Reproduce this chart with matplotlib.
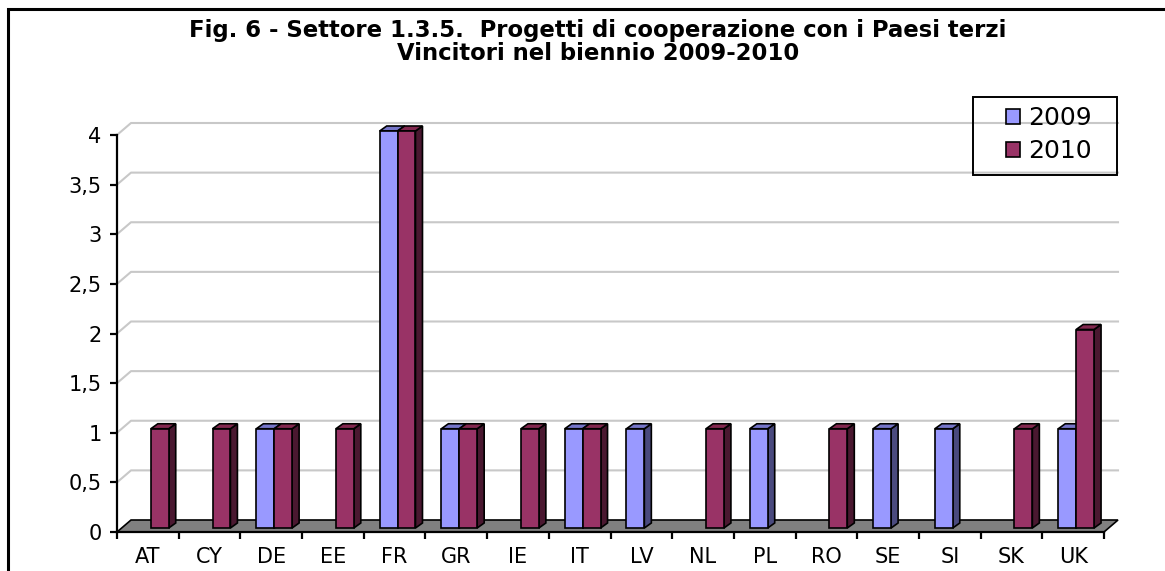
import matplotlib
matplotlib.use("Agg")
import matplotlib.pyplot as plt
from matplotlib.patches import Polygon, Rectangle
from matplotlib.transforms import ScaledTranslation

# Data
countries = ["AT", "CY", "DE", "EE", "FR", "GR", "IE", "IT",
             "LV", "NL", "PL", "RO", "SE", "SI", "SK", "UK"]
v2009 = [0, 0, 1, 0, 4, 1, 0, 1, 1, 0, 1, 0, 1, 1, 0, 1]
v2010 = [1, 1, 1, 1, 4, 1, 1, 1, 0, 1, 0, 1, 0, 0, 1, 2]
series_names = ["2009", "2010"]
yticks = [0, 0.5, 1, 1.5, 2, 2.5, 3, 3.5, 4]
ytick_labels = ["0", "0,5", "1", "1,5", "2", "2,5", "3", "3,5", "4"]

W, H = 1165, 571
fig = plt.figure(figsize=(W / 100, H / 100), dpi=100)
plt.rcParams['font.family'] = ['DejaVu Sans']

# front plane of the plot area (pixels)
x0p, x1p, y0p, y1p = 117, 1104, 532, 135
ax = fig.add_axes([x0p / W, 1 - y0p / H, (x1p - x0p) / W, (y0p - y1p) / H])
n = len(countries)
ax.set_xlim(-0.5, n - 0.5)
ax.set_ylim(0, 4)
px_x = (x1p - x0p) / n        # pixels per category
px_y = (y0p - y1p) / 4.0      # pixels per unit

# depth of the floor / walls and of the bars (pixels -> data)
fdx, fdy = 14 / px_x, 12 / px_y
bdx, bdy = 7 / px_x, 5 / px_y
shift = ax.transData + ScaledTranslation(3 / 100, 4 / 100, fig.dpi_scale_trans)

grid_c = "#C8C8C8"
# gridlines on the back wall with the left-wall diagonal
for yv in yticks[1:]:
    ax.plot([-0.5, -0.5 + fdx, n - 0.5 + fdx], [yv, yv + fdy, yv + fdy],
            color=grid_c, lw=1.5, clip_on=False, zorder=1)

# floor
ax.add_patch(Polygon([(-0.5, 0), (n - 0.5, 0), (n - 0.5 + fdx, fdy), (-0.5 + fdx, fdy)],
                     closed=True, facecolor="#808080", edgecolor="black", lw=1.2,
                     clip_on=False, zorder=2))

bw = 0.29
styles = [("#9999FF", "#7575C8", "#4A4A7E"), ("#993366", "#82284F", "#4A1830")]
xs = list(range(n))
bars = []
z = 3
for i in range(n):
    for s, vals in enumerate([v2009, v2010]):
        h = vals[i]
        front, top, side = styles[s]
        left = i - bw + s * bw
        right = left + bw
        if h > 0:
            ax.add_patch(Polygon([(right, 0), (right + bdx, bdy), (right + bdx, h + bdy), (right, h)],
                                 closed=True, facecolor=side, edgecolor="black", lw=1.2,
                                 transform=shift, clip_on=False, zorder=z))
            ax.add_patch(Polygon([(left, h), (right, h), (right + bdx, h + bdy), (left + bdx, h + bdy)],
                                 closed=True, facecolor=top, edgecolor="black", lw=1.2,
                                 transform=shift, clip_on=False, zorder=z))
        z += 1

for s, vals in enumerate([v2009, v2010]):
    offs = [x - bw + s * bw for x in xs]
    hs = [v if v > 0 else float("nan") for v in vals]
    b = ax.bar(offs, hs, width=bw, align="edge", color=styles[s][0], edgecolor="black",
               lw=1.2, label=series_names[s], transform=shift, clip_on=False)
    for k, r in enumerate(b):
        r.set_zorder(3 + 2 * k + s + 0.5)
    bars.append(b)

# axes styling
for sp in ["top", "right"]:
    ax.spines[sp].set_visible(False)
ax.spines["left"].set_linewidth(1.6)
ax.spines["bottom"].set_linewidth(1.6)
ax.spines["left"].set_zorder(50)
ax.spines["bottom"].set_zorder(50)
ax.set_yticks(yticks)
ax.set_yticklabels(ytick_labels)
ax.tick_params(axis="y", length=5, width=1.6, pad=6, labelsize=15)
ax.set_xticks([x - 0.5 for x in range(n + 1)])
ax.set_xticklabels([])
ax.set_xticks(xs, minor=True)
ax.set_xticklabels(countries, minor=True)
ax.tick_params(axis="x", which="major", length=5, width=1.6)
ax.tick_params(axis="x", which="minor", length=0, pad=11, labelsize=15)
ax.patch.set_visible(False)

# legend: entries without frame, frame drawn as its own box
leg = fig.legend(handles=bars, labels=series_names, loc="upper left",
                 bbox_to_anchor=(1006 / W, 1 - 106 / H), borderaxespad=0,
                 fontsize=18, frameon=False,
                 handlelength=0.56, handleheight=0.56, handletextpad=0.32,
                 borderpad=0, labelspacing=0.38)
fig.patches.append(Rectangle((973 / W, 1 - 175 / H), 144 / W, 78 / H, transform=fig.transFigure,
                             fill=False, edgecolor="black", lw=1.4))

# title
fig.text(598 / W, 1 - 37 / H, "Fig. 6 - Settore 1.3.5.  Progetti di cooperazione con i Paesi terzi",
         ha="center", va="baseline", fontsize=16.4, fontweight="bold")
fig.text(598 / W, 1 - 60 / H, "Vincitori nel biennio 2009-2010",
         ha="center", va="baseline", fontsize=16.4, fontweight="bold")

# chart border
fig.patches.append(Rectangle((8 / W, -0.2), 1.2, 1.2 - 9 / H, transform=fig.transFigure,
                             fill=False, edgecolor="black", lw=2.2))

fig.savefig("out.png", dpi=100)
